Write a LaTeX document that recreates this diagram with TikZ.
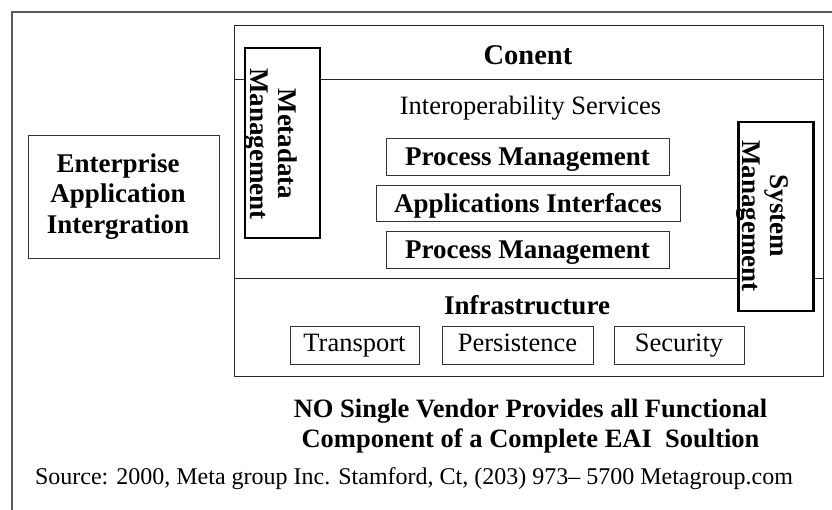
\documentclass[tikz,border=0pt]{standalone}
\usepackage{fontspec}
\setmainfont{Liberation Serif}
\begin{document}
\begin{tikzpicture}[x=1pt,y=-1pt,
  frameline/.style={draw=black!65, line width=1.6pt},
  mainline/.style={draw=black!85, line width=1pt},
  thickbox/.style={draw=black, line width=2.6pt, fill=white, inner sep=0pt},
  itembox/.style={draw=black!80, line width=1pt, inner sep=0pt, align=center},
  boldtxt/.style={font=\fontsize{27}{30.5}\selectfont\bfseries},
  regtxt/.style={font=\fontsize{26.5}{30}\selectfont},
  bolditem/.style={itembox, boldtxt, text height=20pt, text depth=3pt},
  regitem/.style={itembox, regtxt, text height=18pt, text depth=5pt},
]
\useasboundingbox (0,0) rectangle (832,510);

% outer frame (top and left edges)
\coordinate (frameTR) at (832,12);
\coordinate (frameTL) at (12,12);
\coordinate (frameBL) at (12,510);
\draw[frameline] (frameTR) -- (frameTL) -- (frameBL);

% main box with its two dividers
\node[mainline, fill=none, minimum width=589, minimum height=350, inner sep=0pt] (main) at (528.5,201) {};
\coordinate (divA) at (234,80);
\coordinate (divB) at (234,279);
\draw[mainline] (divA) -- (divA -| main.east);
\draw[mainline] (divB) -- (divB -| main.east);

% EAI box
\node[itembox, minimum width=191, minimum height=123] (eaibox) at (123.5,197.5) {};
\node[boldtxt, align=center, inner sep=0pt] (eai) at (118,196.5) {Enterprise\\Application\\Intergration};

% Content title
\node[font=\fontsize{28.5}{32}\selectfont\bfseries, anchor=base, inner sep=0pt] (conent) at (528,64.5) {Conent};

% Metadata management (rotated)
\node[thickbox, minimum width=75, minimum height=190] (metabox) at (282.5,143) {};
\node[font=\fontsize{27}{28}\selectfont\bfseries, align=center, rotate=-90, inner sep=0pt] (meta) at (271,144) {Metadata\\Management};

% System management (rotated)
\node[thickbox, minimum width=75, minimum height=189] (sysbox) at (776,216.5) {};
\node[font=\fontsize{27}{28}\selectfont\bfseries, align=center, rotate=-90, inner sep=0pt] (sys) at (762,216) {System\\Management};

% Interoperability services
\node[regtxt, anchor=base, inner sep=0pt] (interop) at (530.5,115) {Interoperability Services};
\node[bolditem, minimum width=283, minimum height=37] (pm1) at (527.5,157.5) {Process Management};
\node[bolditem, minimum width=304, minimum height=36] (ai) at (528,204) {Applications Interfaces};
\node[bolditem, minimum width=283, minimum height=37] (pm2) at (527.5,250.5) {Process Management};

% Infrastructure
\node[boldtxt, anchor=base, inner sep=0pt] (infra) at (527,315) {Infrastructure};
\node[regitem, minimum width=129, minimum height=37] (transport) at (354.5,345.5) {Transport};
\node[regitem, minimum width=151, minimum height=37] (persist) at (517.5,345.5) {Persistence};
\node[regitem, minimum width=130, minimum height=37] (security) at (679,345.5) {Security};

% Bottom statement
\node[font=\fontsize{26.5}{30}\selectfont\bfseries, align=center, inner sep=0pt] (note) at (530.5,426.5) {NO Single Vendor Provides all Functional\\Component of a Complete EAI\ \ Soultion};

% Source
\node[font=\fontsize{24}{28}\selectfont, anchor=base, inner sep=0pt] (source) at (414,484) {Source: 2000, Meta group Inc. Stamford, Ct, (203) 973– 5700 Metagroup.com};
\end{tikzpicture}
\end{document}
